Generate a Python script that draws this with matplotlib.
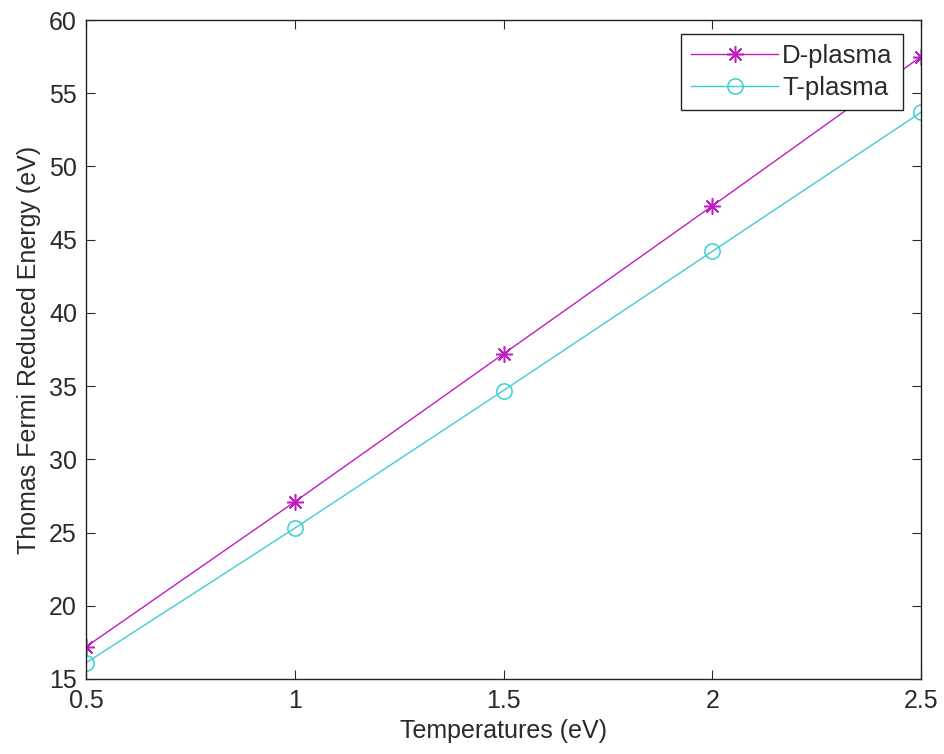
import numpy as np
import matplotlib
matplotlib.use('Agg')
import matplotlib.pyplot as plt

plt.rcParams['font.family'] = ['Liberation Sans', 'DejaVu Sans']

# data
temps = [0.5, 1.0, 1.5, 2.0, 2.5]
d_plasma = [17.2, 27.1, 37.2, 47.3, 57.5]
t_plasma = [16.1, 25.3, 34.7, 44.2, 53.7]

fig = plt.figure(figsize=(9.44, 7.54), dpi=100)
ax = fig.add_axes([86/944, 1 - 679/754, (921-86)/944, (679-20)/754])

ax.plot(temps, d_plasma, color='#c01cc0', marker=(8, 2, 0), markersize=12, lw=1.0,
        markeredgewidth=1.1, label='D-plasma')
ax.plot(temps, t_plasma, color='#3ccfcf', marker='o', markersize=11, lw=1.0,
        markerfacecolor='none', markeredgewidth=1.1, label='T-plasma')

ax.set_xlim(0.5, 2.5)
ax.set_ylim(15, 60)
ax.set_xticks([0.5, 1, 1.5, 2, 2.5])
ax.set_xticklabels(['0.5', '1', '1.5', '2', '2.5'])
ax.set_yticks(np.arange(15, 61, 5))
ax.tick_params(direction='in', top=True, right=True, length=6.5, width=0.8,
               labelsize=18, colors='#2a2a2a')
ax.tick_params(axis='x', pad=7.5)
ax.tick_params(axis='y', pad=6.5)
for s in ax.spines.values():
    s.set_linewidth(1.0)
    s.set_color('#222222')

ax.set_xlabel('Temperatures (eV)', fontsize=18, color='#2a2a2a', labelpad=4)
ax.set_ylabel('Thomas Fermi Reduced Energy (eV)', fontsize=18, color='#2a2a2a', labelpad=6)

leg = ax.legend(loc='upper right', fontsize=18.5, fancybox=False, framealpha=1,
                edgecolor='#222222', borderpad=0.4, labelspacing=0.3,
                handlelength=3.4, handletextpad=0.15, borderaxespad=0,
                bbox_to_anchor=(903/944, 1 - 34/754), bbox_transform=fig.transFigure)
leg.get_frame().set_linewidth(1.0)
for t in leg.get_texts():
    t.set_color('#2a2a2a')

fig.savefig('out.png', dpi=100)
